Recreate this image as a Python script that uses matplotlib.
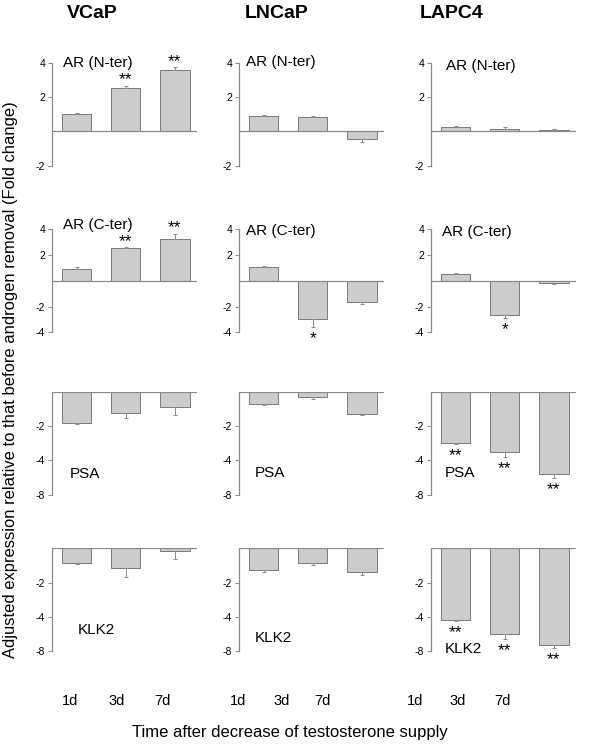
import matplotlib
matplotlib.use("Agg")
import matplotlib.pyplot as plt
import numpy as np

plt.rcParams["font.family"] = ["Liberation Sans", "DejaVu Sans"]
plt.rcParams["axes.unicode_minus"] = False

# Data
cell_lines = ["VCaP", "LNCaP", "LAPC4"]
genes = ["AR (N-ter)", "AR (C-ter)", "PSA", "KLK2"]
days = ["1d", "3d", "7d"]

# mean fold change [gene][cell line][day]
means = [
    [[1.0, 2.5, 3.55], [0.88, 0.82, -0.43], [0.24, 0.16, 0.10]],
    [[0.9, 2.53, 3.25], [1.1, -3.0, -1.68], [0.54, -2.69, -0.18]],
    [[-1.81, -1.24, -0.91], [-0.71, -0.33, -1.29], [-2.97, -3.54, -5.55]],
    [[-0.86, -1.16, -0.16], [-1.27, -0.83, -1.37], [-4.35, -5.98, -7.26]],
]
errors = [
    [[0.05, 0.15, 0.18], [0.06, 0.10, 0.18], [0.10, 0.08, 0.03]],
    [[0.15, 0.07, 0.39], [0.03, 0.57, 0.15], [0.04, 0.20, 0.05]],
    [[0.10, 0.29, 0.46], [0.06, 0.10, 0.06], [0.10, 0.29, 0.47]],
    [[0.08, 0.50, 0.44], [0.12, 0.14, 0.16], [0.16, 0.54, 0.35]],
]
signif = [
    [["", "**", "**"], ["", "", ""], ["", "", ""]],
    [["", "**", "**"], ["", "*", ""], ["", "*", ""]],
    [["", "", ""], ["", "", ""], ["**", "**", "**"]],
    [["", "", ""], ["", "", ""], ["**", "**", "**"]],
]

# compressed scale below -4 (ticks -2, -4, -8 equally spaced)
def fwd(y):
    y = np.asarray(y, dtype=float)
    return np.where(y >= -4, y, -4 + (y + 4) / 2.0)

def inv(u):
    u = np.asarray(u, dtype=float)
    return np.where(u >= -4, u, -4 + 2.0 * (u + 4))

W, H = 603, 748
fig = plt.figure(figsize=(W / 100, H / 100), dpi=100)

col_left = [52, 239, 431]
row_top = [62.7, 229.3, 391.7, 548.3]
ax_w, ax_h = 145, 103
ylims = [(-2, 4), (-4, 4), (-8, 0), (-8, 0)]
yticks = [[-2, 2, 4], [-4, -2, 2, 4], [-8, -4, -2], [-8, -4, -2]]

# gene label positions (pixels)
label_pos = [
    [(63, 63), (246, 62), (446, 66)],
    [(63, 225), (246, 231), (442, 232)],
    [(70, 474), (255, 473), (445, 473)],
    [(78, 630), (255, 638), (445, 649)],
]

grey = "#8a8a8a"
x = np.arange(3)

for r in range(4):
    for c in range(3):
        ax = fig.add_axes([col_left[c] / W, 1 - (row_top[r] + ax_h) / H,
                           ax_w / W, ax_h / H])
        if r >= 2:
            ax.set_yscale("function", functions=(fwd, inv))
        m = np.array(means[r][c])
        e = np.array(errors[r][c])
        ax.bar(x, m, width=0.6, color="#cccccc", edgecolor="#7a7a7a",
               linewidth=0.7, zorder=2)
        lower = np.where(m < 0, e, 0)
        upper = np.where(m >= 0, e, 0)
        ax.errorbar(x, m, yerr=[lower, upper], fmt="none", ecolor=grey,
                    elinewidth=0.7, capsize=1.5, capthick=0.7, zorder=3)
        ax.axhline(0, color=grey, lw=0.9, zorder=4)
        for i in range(3):
            s = signif[r][c][i]
            if not s:
                continue
            if m[i] >= 0:
                ax.annotate(s, (x[i], m[i] + e[i]), xytext=(0, -1),
                            textcoords="offset points", ha="center",
                            va="bottom", fontsize=12.5)
            else:
                ax.annotate(s, (x[i], m[i] - e[i]), xytext=(0, -3),
                            textcoords="offset points", ha="center",
                            va="top", fontsize=12.5)
        ax.set_xlim(-0.5, 2.45)
        ax.set_ylim(*ylims[r])
        ax.set_yticks(yticks[r])
        ax.set_yticklabels([str(t) for t in yticks[r]])
        ax.set_xticks([])
        for sp in ["top", "right", "bottom"]:
            ax.spines[sp].set_visible(False)
        ax.spines["left"].set_color(grey)
        ax.spines["left"].set_linewidth(0.9)
        ax.tick_params(axis="y", length=3, width=0.7, color=grey,
                       labelsize=7.5, pad=2)
        ax.patch.set_alpha(0)
        lx, ly = label_pos[r][c]
        fig.text(lx / W, 1 - ly / H, genes[r], fontsize=11,
                 ha="left", va="center")

# column titles
title_x = [92, 277, 452]
for c in range(3):
    fig.text(title_x[c] / W, 1 - 14 / H, cell_lines[c], fontsize=14,
             fontweight="bold", ha="center", va="center")

# day labels below the panels
day_x = [[70, 117, 162], [238, 282, 322], [415, 458, 502]]
for c in range(3):
    for i, d in enumerate(days):
        fig.text(day_x[c][i] / W, 1 - 701 / H, d, fontsize=10.5,
                 ha="center", va="center")

fig.text(290 / W, 1 - 733 / H, "Time after decrease of testosterone supply",
         fontsize=12, ha="center", va="center")
fig.text(11 / W, 1 - 380 / H,
         "Adjusted expression relative to that before androgen removal (Fold change)",
         fontsize=11.9, rotation=90, ha="center", va="center")

fig.savefig("out.png", dpi=100)
